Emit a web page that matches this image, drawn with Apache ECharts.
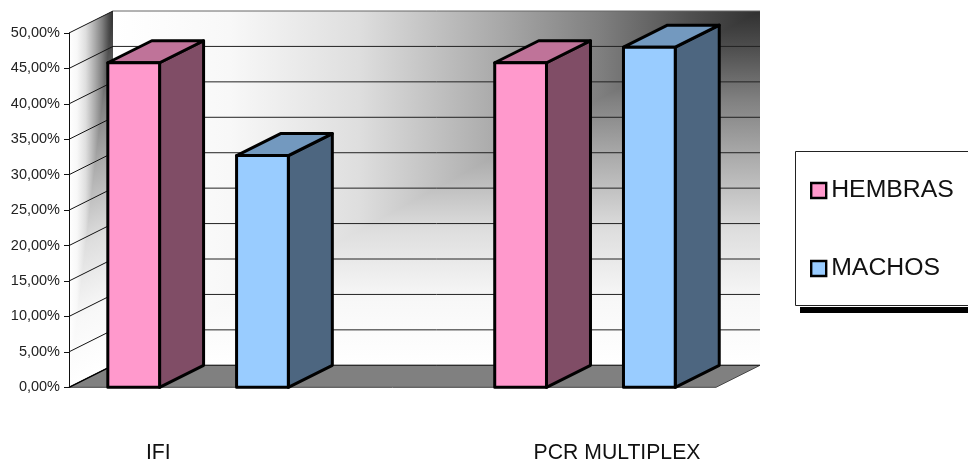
<!DOCTYPE html>
<html>
<head>
<meta charset="utf-8">
<style>html,body{margin:0;padding:0;background:#fff}#chart{width:968px;height:459px}</style>
<script src="https://cdn.jsdelivr.net/npm/echarts@6/dist/echarts.min.js"></script>
</head>
<body>
<div id="chart"></div>
<script>
// Percentages per test, split by sex
const groupNames = ['IFI', 'PCR MULTIPLEX'];
const hembrasValues = [45.8, 45.8];
const machosValues = [32.7, 48.0];
// Position of each bar and group label on the five-slot horizontal scale
const hembrasSlots = [0.5, 3.49];
const machosSlots = [1.495, 4.485];
const groupLabelSlots = [0.69, 4.235];
const yTicks = [0, 5, 10, 15, 20, 25, 30, 35, 40, 45, 50];

const FONT = '"Liberation Sans", Arial, sans-serif';
const DEPTH_X = 44, DEPTH_Y = -22;
const WALL_STOPS = [
  { offset: 0, color: '#ffffff' },
  { offset: 0.18, color: '#f8f8f8' },
  { offset: 0.38, color: '#dedede' },
  { offset: 0.6, color: '#a8a8a8' },
  { offset: 0.75, color: '#808080' },
  { offset: 0.89, color: '#505050' },
  { offset: 1, color: '#303030' }
];

function linear(x, y, x2, y2) {
  return { type: 'linear', x, y, x2, y2, global: true, colorStops: WALL_STOPS };
}
function back(p) { return [p[0] + DEPTH_X, p[1] + DEPTH_Y]; }
function poly(points, style, z2) {
  return { type: 'polygon', shape: { points }, style, z2: z2 || 0, silent: true };
}
function line(a, b, stroke, lineWidth, z2) {
  return {
    type: 'line',
    shape: { x1: a[0], y1: a[1], x2: b[0], y2: b[1] },
    style: { stroke, lineWidth, fill: null },
    z2: z2 || 1,
    silent: true
  };
}

// Side wall, back wall, floor and their gridlines
function renderWalls(params, api) {
  const bl = api.coord([0, 0]), br = api.coord([5, 0]);
  const tl = api.coord([0, 50]), tr = api.coord([5, 50]);
  const wbl = back(bl), wbr = back(br), wtl = back(tl), wtr = back(tr);
  const sideLen = (wbl[1] - wtl[1]) * 2 / Math.sqrt(5);
  const children = [
    // back wall: sideways shade, then an upward shade below the diagonal
    poly([wbl, wtl, wtr, wbr], { fill: linear(wbl[0], 0, wbr[0], 0) }),
    poly([wbl, wbr, wtr], { fill: linear(0, wbl[1], 0, wtl[1]) }),
    // side wall, sheared the same way
    poly([bl, tl, wtl, wbl], { fill: linear(bl[0], 0, wbl[0], 0) }),
    poly([bl, wbl, wtl], {
      fill: linear(wbl[0], wbl[1],
        wbl[0] - sideLen * 0.4472, wbl[1] - sideLen * 0.8944)
    }),
    // floor
    poly([bl, br, wbr, wbl], { fill: '#808080', stroke: '#444', lineWidth: 1 }, 1)
  ];
  yTicks.forEach(function (t) {
    const p = api.coord([0, t]), q = back(p), r = back(api.coord([5, t]));
    const color = t === 50 ? '#666' : '#222';
    children.push(line(q, r, color, 1, 2));
    if (t > 0) children.push(line(p, q, '#111', 1, 2));
  });
  children.push(line(bl, wbl, '#000', 1.5, 2));
  return { type: 'group', children };
}

// Box-shaped bar: front face plus top and right faces pushed back in depth
function boxRenderer(front, top, side) {
  return function (params, api) {
    const slot = api.value(0), value = api.value(1);
    const half = api.size([1, 0])[0] * 0.2;
    const c0 = api.coord([slot, 0]), c1 = api.coord([slot, value]);
    const fbl = [c0[0] - half, c0[1]], fbr = [c0[0] + half, c0[1]];
    const ftl = [c1[0] - half, c1[1]], ftr = [c1[0] + half, c1[1]];
    const edge = { stroke: '#000', lineWidth: 3, lineJoin: 'round' };
    return {
      type: 'group',
      children: [
        poly([fbr, ftr, back(ftr), back(fbr)], Object.assign({ fill: side }, edge)),
        poly([ftl, back(ftl), back(ftr), ftr], Object.assign({ fill: top }, edge)),
        poly([fbl, ftl, ftr, fbr], Object.assign({ fill: front }, edge))
      ]
    };
  };
}

function pairs(slots, values) {
  return slots.map(function (s, i) { return [s, values[i]]; });
}

const chart = echarts.init(document.getElementById('chart'), null, { renderer: 'canvas' });
chart.setOption({
  animation: false,
  backgroundColor: '#ffffff',
  textStyle: { fontFamily: FONT },
  grid: { left: 69, top: 33, width: 647, height: 354.3, containLabel: false, outerBoundsMode: 'none' },
  xAxis: {
    type: 'value',
    min: 0,
    max: 5,
    splitLine: { show: false },
    axisLine: { show: false },
    axisTick: { show: false },
    axisLabel: {
      customValues: groupLabelSlots,
      margin: 55,
      fontSize: 21.2,
      fontFamily: FONT,
      color: '#111',
      hideOverlap: false,
      formatter: function (v) {
        return groupNames[groupLabelSlots.indexOf(v)];
      }
    }
  },
  yAxis: {
    type: 'value',
    min: 0,
    max: 50,
    interval: 5,
    z: 4,
    splitLine: { show: false },
    axisLine: { show: true, lineStyle: { color: '#111', width: 1 } },
    axisTick: { show: true, length: 5, lineStyle: { color: '#111', width: 1 } },
    axisLabel: {
      margin: 9,
      fontSize: 14.5,
      fontFamily: FONT,
      color: '#222',
      formatter: function (v) { return v.toFixed(2).replace('.', ',') + '%'; }
    }
  },
  legend: {
    orient: 'vertical',
    left: 795,
    top: 151,
    padding: [27, 50, 26, 15],
    itemGap: 53,
    itemWidth: 15,
    itemHeight: 15,
    selectedMode: false,
    backgroundColor: '#fff',
    borderWidth: 0,
    shadowColor: '#000',
    shadowBlur: 0,
    shadowOffsetX: 5,
    shadowOffsetY: 6,
    textStyle: { fontFamily: FONT, fontSize: 24.8, color: '#111', lineHeight: 24 },
    data: [
      { name: 'HEMBRAS', icon: 'rect', itemStyle: { color: '#FF99CC', borderColor: '#000', borderWidth: 2.4 } },
      { name: 'MACHOS', icon: 'rect', itemStyle: { color: '#99CCFF', borderColor: '#000', borderWidth: 2.4 } }
    ]
  },
  // Thin frame around the legend; its fill and drop shadow belong to the legend itself
  graphic: [{
    type: 'rect',
    silent: true,
    z: 6,
    shape: { x: 795.5, y: 151.5, width: 220, height: 154 },
    style: { fill: null, stroke: '#222', lineWidth: 1 }
  }],
  series: [
    {
      type: 'custom',
      name: 'walls',
      z: 1,
      clip: false,
      silent: true,
      renderItem: renderWalls,
      data: [[0, 0]]
    },
    {
      type: 'custom',
      name: 'HEMBRAS',
      z: 5,
      clip: false,
      itemStyle: { color: '#FF99CC' },
      encode: { x: 0, y: 1 },
      renderItem: boxRenderer('#FF99CC', '#BF7399', '#804D66'),
      data: pairs(hembrasSlots, hembrasValues)
    },
    {
      type: 'custom',
      name: 'MACHOS',
      z: 5,
      clip: false,
      itemStyle: { color: '#99CCFF' },
      encode: { x: 0, y: 1 },
      renderItem: boxRenderer('#99CCFF', '#7399BF', '#4D6680'),
      data: pairs(machosSlots, machosValues)
    }
  ]
});
</script>
</body>
</html>
